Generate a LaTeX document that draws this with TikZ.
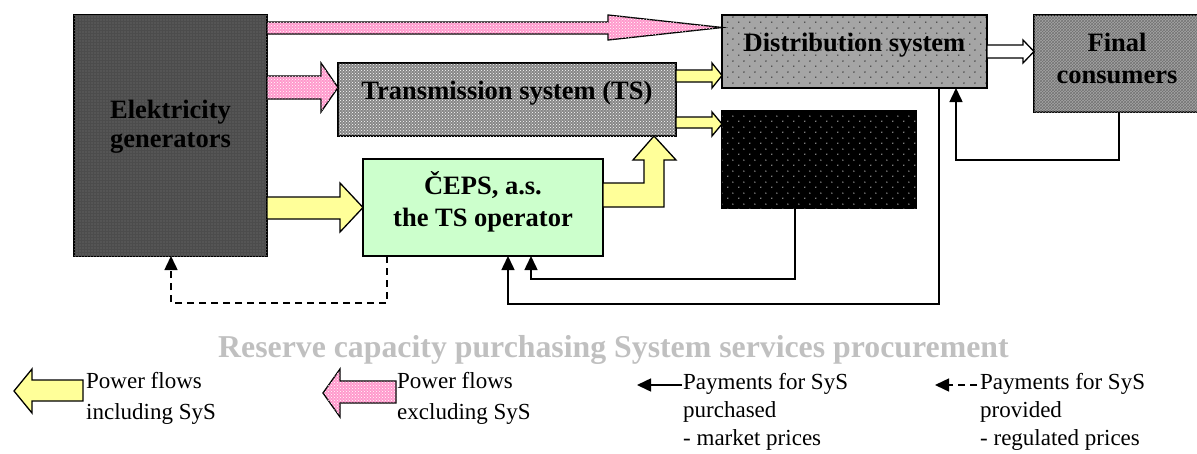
\documentclass[tikz,border=0pt]{standalone}
\usepackage{fontspec}
\setmainfont{Liberation Serif}
\usetikzlibrary{arrows.meta,patterns,patterns.meta,calc}

\definecolor{pinkf}{RGB}{255,153,204}
\definecolor{yell}{RGB}{255,255,153}
\definecolor{greenf}{RGB}{204,255,204}
\definecolor{titlegray}{RGB}{192,192,192}
\definecolor{gendark}{RGB}{85,85,85}
\definecolor{tsgray}{RGB}{135,135,135}
\definecolor{distgray}{RGB}{165,165,165}
\definecolor{fingray}{RGB}{165,165,165}

\tikzdeclarepattern{
  name=sparsedots,
  bounding box={(0pt,0pt) and (11pt,11pt)},
  tile size={(11pt,11pt)},
  code={
    \pgfpathcircle{\pgfpoint{2pt}{2pt}}{0.7pt}
    \pgfpathcircle{\pgfpoint{7.5pt}{7.5pt}}{0.7pt}
    \pgfusepath{fill}
  }
}

\begin{document}
\begin{tikzpicture}[x=1pt,y=-1pt,
  box/.style={draw=black, line width=1.5pt, inner sep=0pt, outer sep=0pt,
    anchor=north west, align=center, font=\bfseries\fontsize{26.5}{32}\selectfont},
  single/.style={text height=18pt, text depth=18pt},
  barrow/.style={draw=black, line width=1.3pt, line join=miter},
  pinkarrow/.style={barrow, fill=pinkf, postaction={pattern=crosshatch dots, pattern color=white}},
  yelarrow/.style={barrow, fill=yell},
  whitearrow/.style={barrow, fill=white},
  pay/.style={line width=1.5pt, -{Triangle[length=14pt,width=13pt]}},
  paydash/.style={pay, dash pattern=on 7pt off 5pt},
  legtext/.style={anchor=north west, inner sep=0pt, align=left, font=\fontsize{23}{31}\selectfont}
]
\useasboundingbox (0,0) rectangle (1197,453);

% boxes
\node[box, minimum width=193pt, minimum height=241pt, fill=gendark,
  postaction={pattern=grid, pattern color=black!70},
  font=\bfseries\fontsize{26.5}{29}\selectfont]
  (gen) at (74,15) {Elektricity\\generators\rule[-23pt]{0pt}{23pt}};
\node[box, single, minimum width=338pt, minimum height=73pt, fill=tsgray,
  postaction={pattern=crosshatch dots, pattern color=white}]
  (ts) at (338,63) {Transmission system (TS)};
\node[box, single, minimum width=265pt, minimum height=73pt, fill=distgray,
  postaction={pattern=sparsedots, pattern color=black}]
  (dist) at (722,15) {Distribution system};
\node[box, minimum width=166pt, minimum height=97pt, fill=fingray,
  postaction={pattern=crosshatch, pattern color=black!55}]
  (final) at (1034,15) {Final\\consumers\rule[-11pt]{0pt}{11pt}};
\node[box, minimum width=194pt, minimum height=97pt, fill=black,
  postaction={pattern=sparsedots, pattern color=white}]
  (blk) at (722,111) {};
\node[box, minimum width=240pt, minimum height=97pt, fill=greenf]
  (ceps) at (363,159) {ČEPS, a.s.\\the TS operator\rule[-17pt]{0pt}{17pt}};

% block arrows (power flows)
\draw[pinkarrow] (gen.east|-0,22) -- ([xshift=-114pt]dist.west|-0,22)
  -- ([xshift=-114pt]dist.west|-0,15) -- (dist.west|-0,27.5)
  -- ([xshift=-114pt]dist.west|-0,40) -- ([xshift=-114pt]dist.west|-0,34)
  -- (gen.east|-0,34) -- cycle;
\draw[pinkarrow] (gen.east|-0,76) -- ([xshift=-17pt]ts.west|-0,76)
  -- ([xshift=-17pt]ts.west|-0,63) -- (ts.west|-0,87.5)
  -- ([xshift=-17pt]ts.west|-0,112) -- ([xshift=-17pt]ts.west|-0,99)
  -- (gen.east|-0,99) -- cycle;
\draw[yelarrow] (gen.east|-0,197) -- ([xshift=-23pt]ceps.west|-0,197)
  -- ([xshift=-23pt]ceps.west|-0,183) -- (ceps.west|-0,207.5)
  -- ([xshift=-23pt]ceps.west|-0,232) -- ([xshift=-23pt]ceps.west|-0,219)
  -- (gen.east|-0,219) -- cycle;
\draw[yelarrow] (ts.east|-0,70) -- ([xshift=-10pt]dist.west|-0,70)
  -- ([xshift=-10pt]dist.west|-0,63) -- (dist.west|-0,75.5)
  -- ([xshift=-10pt]dist.west|-0,88) -- ([xshift=-10pt]dist.west|-0,82)
  -- (ts.east|-0,82) -- cycle;
\draw[yelarrow] (ts.east|-0,117) -- ([xshift=-10pt]blk.west|-0,117)
  -- ([xshift=-10pt]blk.west|-0,112) -- (blk.west|-0,124)
  -- ([xshift=-10pt]blk.west|-0,136) -- ([xshift=-10pt]blk.west|-0,128)
  -- (ts.east|-0,128) -- cycle;
\draw[yelarrow] (ceps.east|-0,183) -- (644,183) -- (644,160) -- (633,160)
  -- (654,0|-ts.south) -- (676,160) -- (664,160) -- (664,207)
  -- (ceps.east|-0,207) -- cycle;
\draw[whitearrow] (dist.east|-0,45) -- ([xshift=-11pt]final.west|-0,45)
  -- ([xshift=-11pt]final.west|-0,40) -- (final.west|-0,51.5)
  -- ([xshift=-11pt]final.west|-0,63) -- ([xshift=-11pt]final.west|-0,58)
  -- (dist.east|-0,58) -- cycle;

% payment connectors
\draw[pay] (final.south-|1119,0) -- (1119,160) -| (dist.south-|956,0);
\draw[pay] (dist.south-|939,0) -- (939,304) -| (ceps.south-|508,0);
\draw[pay] (blk.south-|795,0) -- (795,279) -| (ceps.south-|531,0);
\draw[paydash] (ceps.south-|387,0) -- (387,303) -| (gen.south-|171,0);

% title
\node[anchor=base west, inner sep=0pt, text=titlegray,
  font=\bfseries\fontsize{31.8}{36}\selectfont] (title) at (218,357)
  {Reserve capacity purchasing System services procurement};

% legend
\draw[yelarrow] (14,391) -- (32,369) -- (32,380) -- (83,380) -- (83,401)
  -- (32,401) -- (32,413) -- cycle;
\node[legtext] (leg1) at (86,372) {Power flows\\including SyS};
\draw[pinkarrow] (323,393) -- (340,369) -- (340,381) -- (396,381) -- (396,403)
  -- (340,403) -- (340,417) -- cycle;
\node[legtext] (leg2) at (397,372) {Power flows\\excluding SyS};
\coordinate (pa1) at (682,385);
\coordinate (pa2) at (637,385);
\draw[pay] (pa1) -- (pa2);
\node[legtext, font=\fontsize{23}{28}\selectfont] (leg3) at (683,373)
  {Payments for SyS\\purchased\\- market prices};
\coordinate (pd1) at (977,385);
\coordinate (pd2) at (935,385);
\draw[paydash] (pd1) -- (pd2);
\node[legtext, font=\fontsize{23}{28}\selectfont] (leg4) at (980,373)
  {Payments for SyS\\provided\\- regulated prices};
\end{tikzpicture}
\end{document}
